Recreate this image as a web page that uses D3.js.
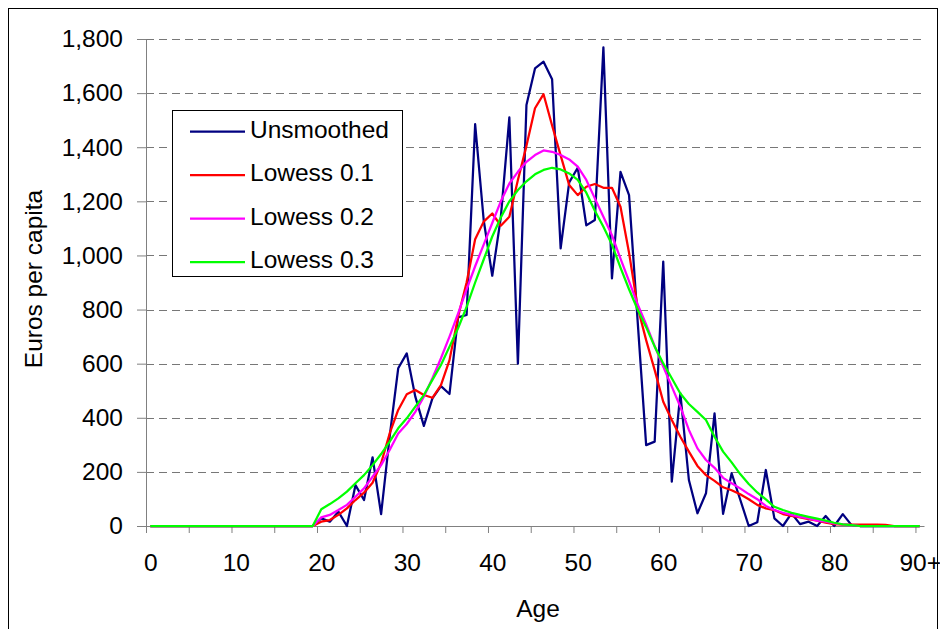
<!DOCTYPE html>
<html>
<head>
<meta charset="utf-8">
<script src="https://cdn.jsdelivr.net/npm/d3@7"></script>
<style>
  body { margin: 0; background: #fff; }
  svg { display: block; }
  text { font-family: "Liberation Sans", Arial, sans-serif; fill: #000; }
</style>
</head>
<body>
<svg id="chart"></svg>
<script>
// Ages 0..90 (90 means 90+), one category each
const ages = d3.range(0, 91);
const xLabels = [0, 10, 20, 30, 40, 50, 60, 70, 80, 90];
const yTicks = [0, 200, 400, 600, 800, 1000, 1200, 1400, 1600, 1800];

// Values, ages 0..90
const unsmoothed = [
  0, 0, 0, 0, 0, 0, 0, 0, 0, 0,
  0, 0, 0, 0, 0, 0, 0, 0, 0, 0,
  28, 16, 53, 0, 151, 96, 254, 44, 330, 583,
  638, 478, 370, 472, 517, 488, 771, 780, 1485, 1130,
  925, 1140, 1510, 600, 1556, 1691, 1716, 1651, 1026, 1270,
  1324, 1111, 1131, 1769, 915, 1309, 1223, 760, 299, 312,
  977, 164, 490, 170, 47, 121, 416, 45, 195, 98,
  0, 14, 207, 28, 0, 47, 7, 16, 0, 37,
  0, 44, 4, 0, 0, 0, 0, 0, 0, 0,
  0
];
const lowess01 = [
  0, 0, 0, 0, 0, 0, 0, 0, 0, 0,
  0, 0, 0, 0, 0, 0, 0, 0, 0, 0,
  16, 22, 41, 65, 96, 123, 160, 232, 342, 429,
  487, 503, 484, 474, 521, 613, 773, 900, 1060, 1125,
  1155, 1110, 1143, 1279, 1405, 1544, 1596, 1480, 1370, 1260,
  1223, 1254, 1264, 1250, 1250, 1180, 1010, 810, 687, 576,
  459, 392, 330, 275, 222, 188, 167, 143, 132, 117,
  99, 78, 65, 59, 44, 37, 32, 25, 20, 12,
  7, 5, 5, 5, 5, 5, 4, 0, 0, 0,
  0
];
const lowess02 = [
  0, 0, 0, 0, 0, 0, 0, 0, 0, 0,
  0, 0, 0, 0, 0, 0, 0, 0, 0, 0,
  32, 41, 59, 78, 108, 139, 182, 225, 281, 342,
  377, 422, 478, 546, 620, 700, 785, 875, 960, 1040,
  1120, 1200, 1266, 1309, 1346, 1371, 1388, 1383, 1371, 1355,
  1328, 1279, 1211, 1143, 1075, 988, 905, 820, 745, 665,
  589, 515, 441, 355, 287, 244, 215, 178, 158, 139,
  118, 99, 74, 59, 49, 41, 34, 28, 20, 16,
  10, 6, 3, 0, 0, 0, 0, 0, 0, 0,
  0
];
const lowess03 = [
  0, 0, 0, 0, 0, 0, 0, 0, 0, 0,
  0, 0, 0, 0, 0, 0, 0, 0, 0, 0,
  62, 81, 102, 127, 158, 188, 225, 266, 312, 361,
  398, 441, 484, 540, 595, 663, 731, 810, 900, 985,
  1070, 1140, 1200, 1242, 1274, 1300, 1316, 1324, 1318, 1303,
  1279, 1232, 1165, 1106, 1040, 955, 875, 800, 735, 663,
  601, 546, 490, 451, 422, 392, 330, 275, 235, 192,
  155, 124, 98, 71, 59, 49, 41, 34, 27, 20,
  12, 6, 3, 0, 0, 0, 0, 0, 0, 0,
  0
];

const series = [
  { name: 'Unsmoothed', values: unsmoothed, color: '#000080' },
  { name: 'Lowess 0.1', values: lowess01, color: '#ff0000' },
  { name: 'Lowess 0.2', values: lowess02, color: '#ff00ff' },
  { name: 'Lowess 0.3', values: lowess03, color: '#00ff00' },
];

const width = 940;
const height = 629;
const plot = { left: 146, right: 924, top: 39, bottom: 526 };

const svg = d3.select('#chart').attr('width', width).attr('height', height);

// outer chart frame
svg.append('rect')
  .attr('x', 8.5).attr('y', 8.5)
  .attr('width', 929).attr('height', 640)
  .attr('fill', '#fff').attr('stroke', '#000');

// category axis: points sit in the middle of each category slot
const x = d3.scalePoint().domain(ages).range([plot.left, plot.right]).padding(0.5);
// slot edges, for the tick marks every 5 years
const xEdge = d3.scaleLinear().domain([0, 91]).range([plot.left, plot.right]);
const y = d3.scaleLinear().domain([0, 1800]).range([plot.bottom, plot.top]);

// dashed gridlines
svg.append('g')
  .selectAll('line')
  .data(yTicks.filter((d) => d > 0))
  .join('line')
  .attr('x1', plot.left).attr('x2', plot.right)
  .attr('y1', (d) => Math.round(y(d)) + 0.5)
  .attr('y2', (d) => Math.round(y(d)) + 0.5)
  .attr('stroke', '#777')
  .attr('stroke-dasharray', '8,5');

// y axis
const yAxis = svg.append('g')
  .attr('transform', `translate(${plot.left}, 0)`)
  .call(d3.axisLeft(y).tickValues(yTicks).tickFormat(d3.format(',')).tickSize(9).tickSizeOuter(0).tickPadding(14));
yAxis.selectAll('text').style('font-size', '24.5px');

// x axis ticks
svg.append('g')
  .attr('transform', `translate(0, ${plot.bottom})`)
  .call(d3.axisBottom(xEdge).tickValues(d3.range(0, 91, 5)).tickFormat('').tickSize(7).tickSizeOuter(0));

// x axis labels
const xLab = svg.append('g')
  .attr('transform', `translate(0, ${plot.bottom})`)
  .call(d3.axisBottom(x).tickValues(xLabels).tickFormat((d) => (d === 90 ? '90+' : d)).tickSize(0).tickPadding(28));
xLab.select('.domain').remove();
xLab.selectAll('text').style('font-size', '24.5px');

svg.selectAll('.domain, .tick line').attr('stroke', '#808080');

// series lines
const line = d3.line()
  .x((d, i) => x(ages[i]))
  .y((d) => y(d));

svg.append('g')
  .selectAll('path')
  .data(series)
  .join('path')
  .attr('d', (s) => line(s.values))
  .attr('fill', 'none')
  .attr('stroke', (s) => s.color)
  .attr('stroke-width', 2.25)
  .attr('stroke-linejoin', 'round');

// axis titles
svg.append('text')
  .attr('x', 538).attr('y', 617)
  .attr('text-anchor', 'middle')
  .style('font-size', '24.5px')
  .text('Age');

svg.append('text')
  .attr('transform', 'translate(41.5, 279) rotate(-90)')
  .attr('text-anchor', 'middle')
  .style('font-size', '24.5px')
  .text('Euros per capita');

// legend
const legend = svg.append('g');
legend.append('rect')
  .attr('x', 172.5).attr('y', 110.5)
  .attr('width', 230).attr('height', 166)
  .attr('fill', '#fff').attr('stroke', '#000');

const rows = legend.selectAll('g.row')
  .data(series)
  .join('g')
  .attr('class', 'row')
  .attr('transform', (d, i) => `translate(0, ${137.5 + i * 43.5})`);

rows.append('line')
  .attr('x1', 190).attr('x2', 245)
  .attr('y1', -6).attr('y2', -6)
  .attr('stroke', (d) => d.color)
  .attr('stroke-width', 2.25);

rows.append('text')
  .attr('x', 250).attr('y', 0)
  .style('font-size', '24.5px')
  .text((d) => d.name);
</script>
</body>
</html>
